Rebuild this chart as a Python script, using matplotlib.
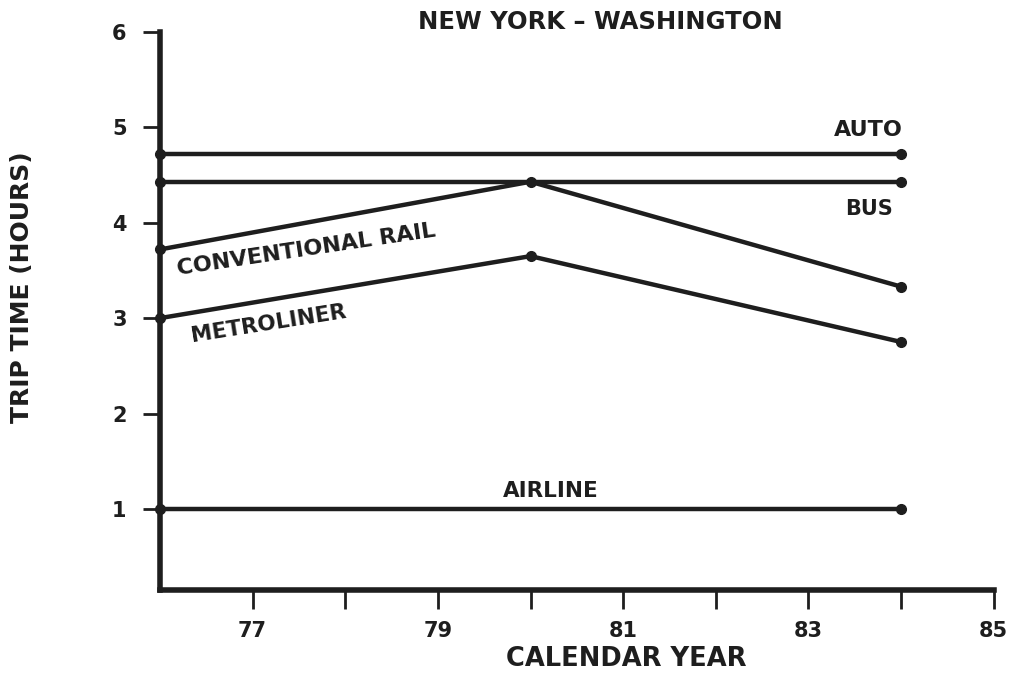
import matplotlib.pyplot as plt

plt.rcParams['font.family'] = ['DejaVu Sans']

# Data (trip time in hours, calendar year)
years = [76, 80, 84]
auto = [4.72, 4.72, 4.72]
bus = [4.43, 4.43, 4.43]
conventional_rail = [3.72, 4.43, 3.33]
metroliner = [3.0, 3.65, 2.75]
airline = [1.0, 1.0, 1.0]

x_ticks = [77, 78, 79, 80, 81, 82, 83, 84, 85]
x_labels = ['77', '', '79', '', '81', '', '83', '', '85']
y_ticks = [1, 2, 3, 4, 5, 6]

ink = '#1e1e1e'

fig = plt.figure(figsize=(10.12, 6.74), dpi=100)
ax = fig.add_axes([0.158, 0.1246, 0.824, 0.828])

# flat series only show dots at the ends, the changing ones at every year
for series in [auto, bus, airline]:
    ax.plot(years, series, color=ink, linewidth=3.2, marker='o', markevery=[0, 2],
            markersize=7, solid_capstyle='round', clip_on=False, zorder=3)
for series in [conventional_rail, metroliner]:
    ax.plot(years, series, color=ink, linewidth=3.2, marker='o',
            markersize=7, solid_capstyle='round', clip_on=False, zorder=3)

ax.set_xlim(76, 85)
ax.set_ylim(0.15, 6.0)

ax.set_xticks(x_ticks)
ax.set_xticklabels(x_labels)
ax.set_yticks(y_ticks)

for side in ['top', 'right']:
    ax.spines[side].set_visible(False)
for side in ['left', 'bottom']:
    ax.spines[side].set_linewidth(4)
    ax.spines[side].set_color(ink)

ax.tick_params(axis='x', direction='out', length=14, width=2, color=ink,
               labelsize=15, pad=8, labelcolor=ink)
ax.tick_params(axis='y', direction='out', length=12, width=2, color=ink,
               labelsize=15, pad=12, labelcolor=ink)
for lbl in ax.get_xticklabels() + ax.get_yticklabels():
    lbl.set_fontweight('bold')

fig.text(0.619, 0.012, 'CALENDAR YEAR', ha='center', va='baseline',
         fontsize=18.5, fontweight='bold', color=ink)
fig.text(0.022, 0.574, 'TRIP TIME (HOURS)', ha='center', va='center', rotation=90,
         fontsize=18, fontweight='bold', color=ink)
fig.text(0.593, 0.967, 'NEW YORK – WASHINGTON', ha='center', va='center',
         fontsize=17.5, fontweight='bold', color=ink)

# Series labels
ax.text(83.65, 4.87, 'AUTO', fontsize=16, fontweight='bold', color=ink, ha='center', va='bottom')
ax.text(83.65, 4.25, 'BUS', fontsize=15, fontweight='bold', color=ink, ha='center', va='top')
ax.text(76.2, 3.45, 'CONVENTIONAL RAIL', fontsize=16, fontweight='bold', color=ink,
        rotation=8.5, rotation_mode='anchor', ha='left', va='baseline')
ax.text(76.35, 2.75, 'METROLINER', fontsize=15.5, fontweight='bold', color=ink,
        rotation=9, rotation_mode='anchor', ha='left', va='baseline')
ax.text(80.22, 1.08, 'AIRLINE', fontsize=15.5, fontweight='bold', color=ink, ha='center', va='bottom')

fig.savefig('out.png', dpi=100)
